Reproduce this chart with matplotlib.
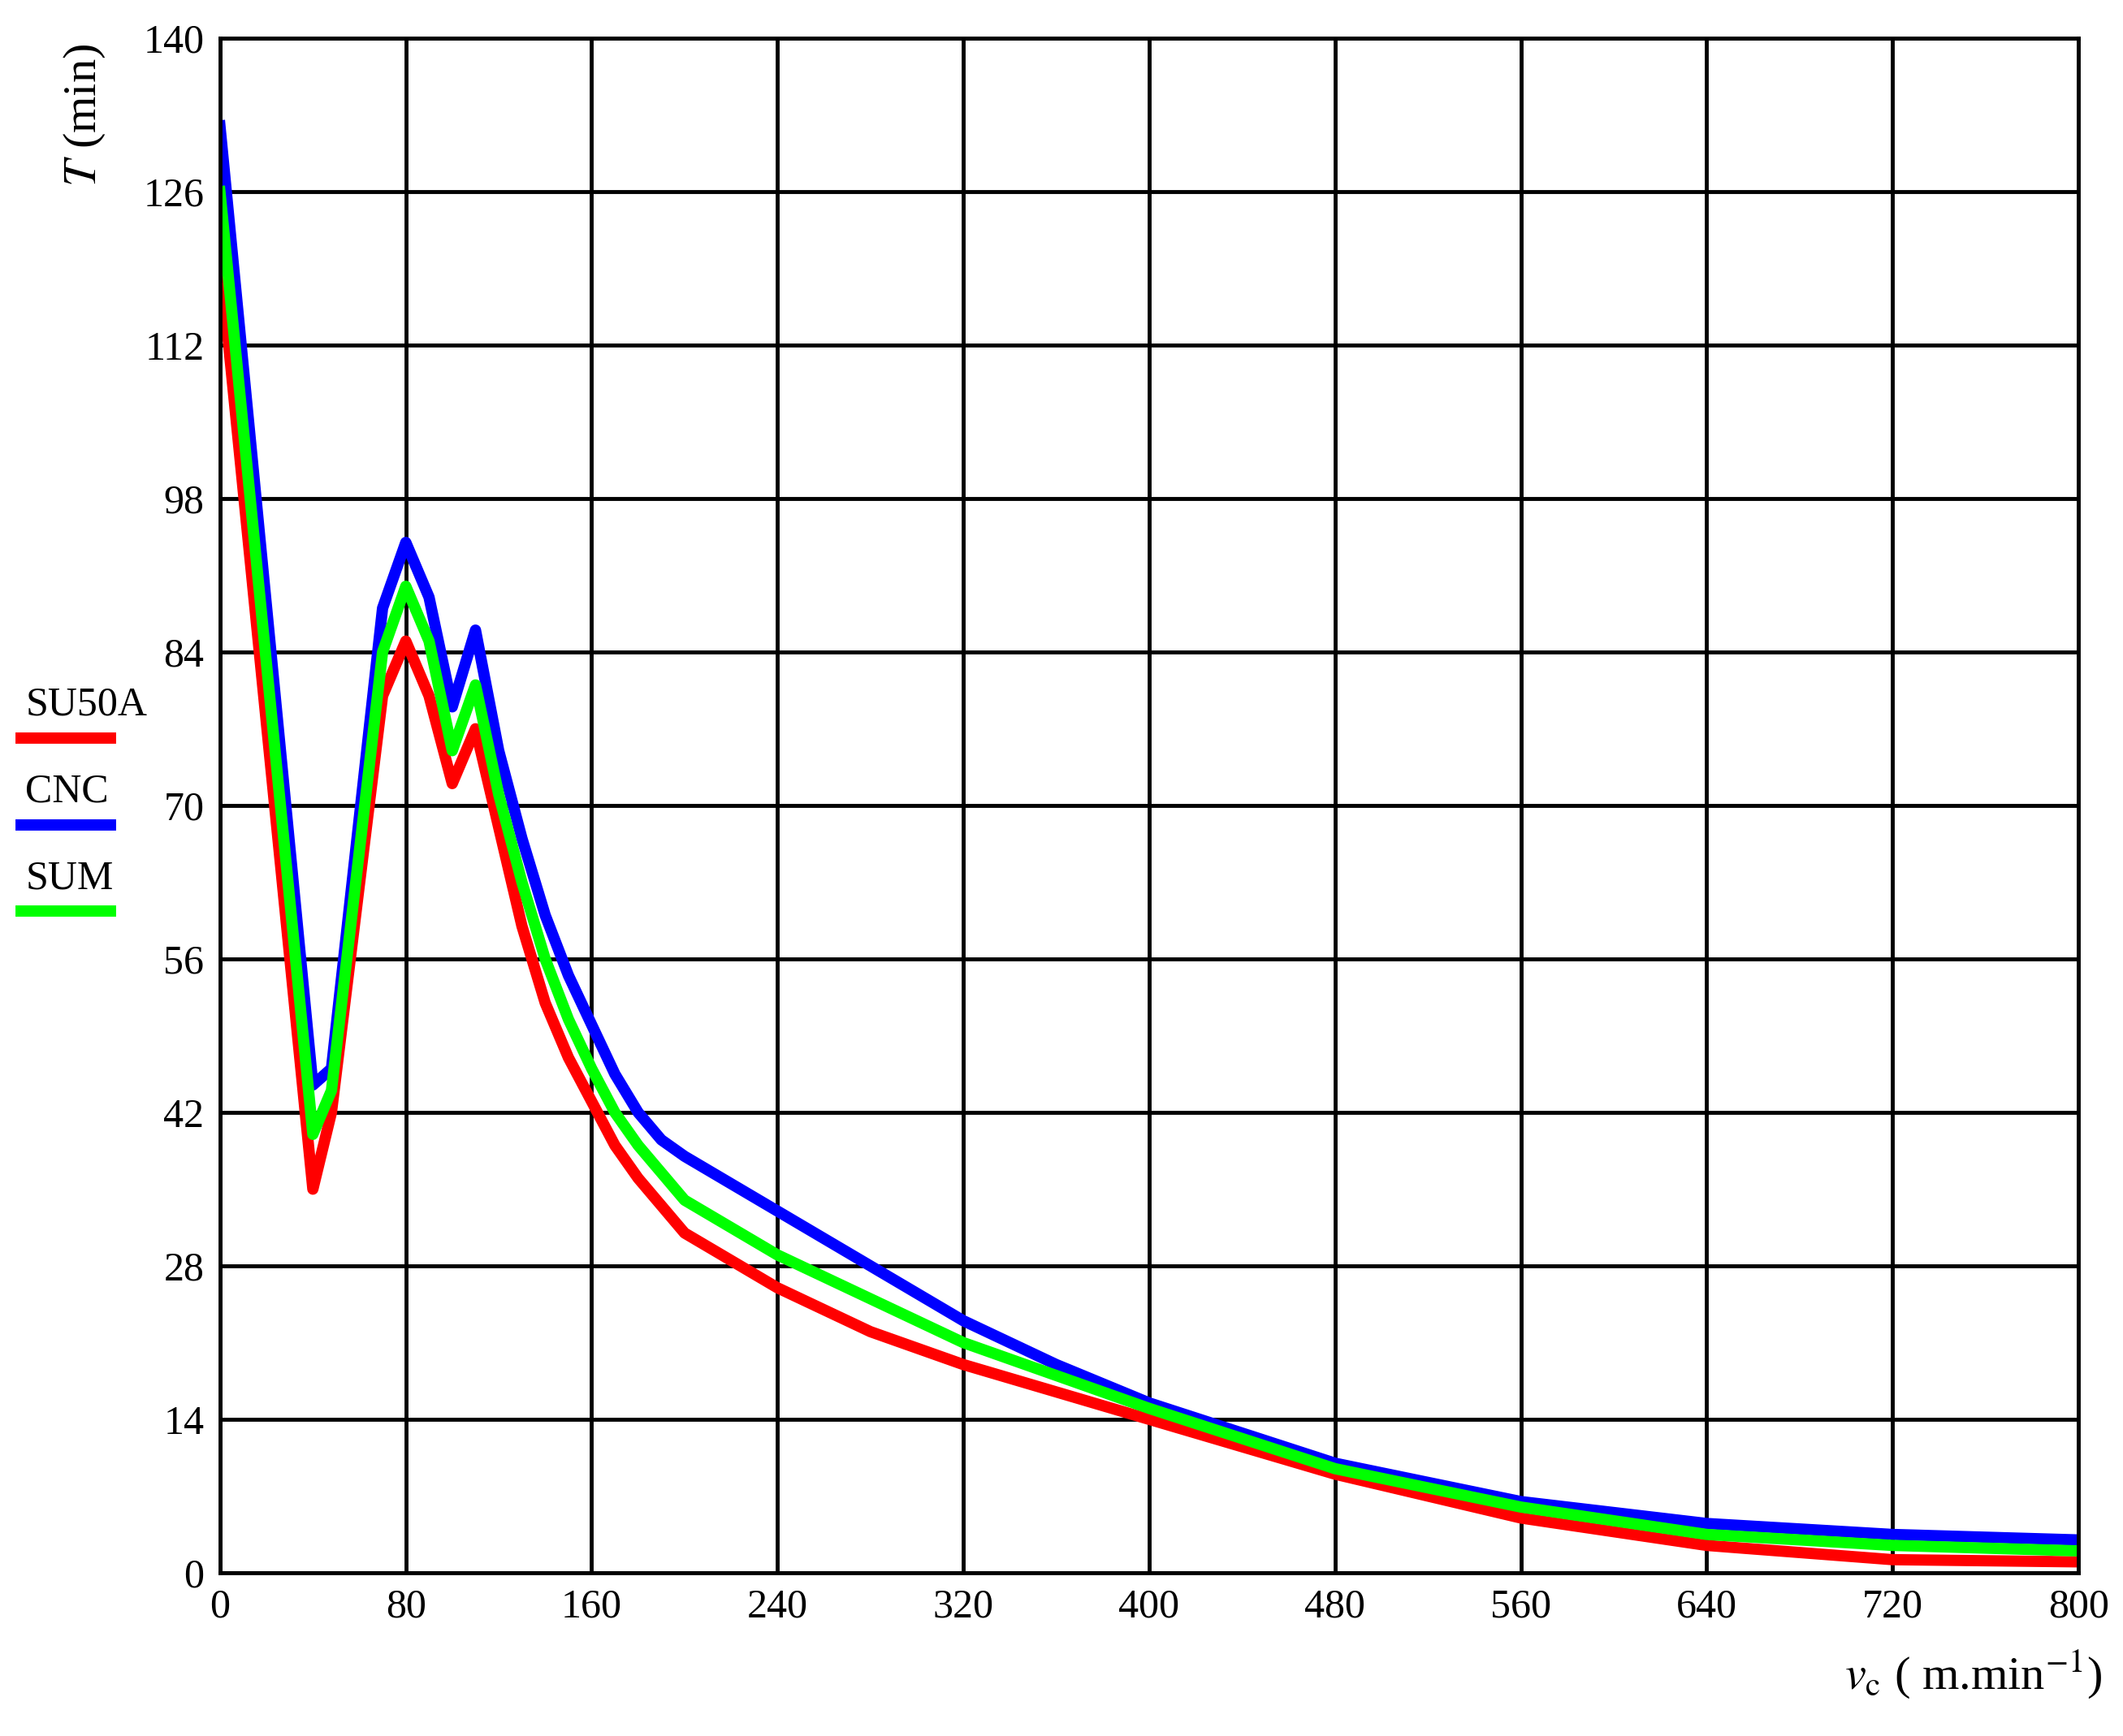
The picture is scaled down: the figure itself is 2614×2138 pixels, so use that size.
import matplotlib
matplotlib.use("Agg")
import matplotlib.pyplot as plt

plt.rcParams['font.family'] = ['Liberation Serif', 'DejaVu Serif']
plt.rcParams['mathtext.fontset'] = 'stix'

vc = [0, 40, 48, 70, 80, 90, 100, 110, 120, 130, 140, 150, 160, 170, 180, 190, 200, 220, 240, 280, 320, 360, 400, 480, 560, 640, 720, 800]
t_su50a = [120, 35, 42, 80, 85, 80, 72, 77, 68, 59, 52, 47, 43, 39, 36, 33.5, 31, 28.5, 26, 22, 19, 16.5, 14, 9, 5, 2.5, 1.2, 1]
t_cnc = [132, 44.5, 46, 88, 94, 89, 79, 86, 75, 67, 60, 54.5, 50, 45.5, 42, 39.5, 38, 35.5, 33, 28, 23, 19, 15.5, 10, 6.5, 4.5, 3.5, 3]
t_sum = [126, 40, 44, 84, 90, 85, 75, 81, 71, 63, 56, 50.5, 46, 42, 39, 36.5, 34, 31.5, 29, 25, 21, 18, 15, 9.5, 6, 3.5, 2.5, 2]

series = [("SU50A", t_su50a, "#ff0000"), ("CNC", t_cnc, "#0000ff"), ("SUM", t_sum, "#00ff00")]

fig = plt.figure(figsize=(26.14, 21.38), dpi=100)
ax = fig.add_axes([0.1036, 0.094, 0.8754, 0.884])

for name, t, col in series:
    ax.plot(vc, t, color=col, lw=10, label=name)

ax.set_xlim(0, 800)
ax.set_ylim(0, 140)
ax.set_xticks(range(0, 801, 80))
ax.set_yticks(range(0, 141, 14))
ax.grid(True, color="black", lw=3.5)
ax.tick_params(labelsize=36, length=0, pad=14)
for s in ax.spines.values():
    s.set_linewidth(3.5)

fig.text(0.04, 0.975, "$T$ (min)", rotation=90, fontsize=42, va="top", ha="center")
fig.text(0.99, 0.02, "$v_{\\mathrm{c}}$ ( m.min$^{-1}$)", fontsize=42, ha="right", va="bottom")

# legend at left outside the axes
for i, (name, t, col) in enumerate(series):
    y = 0.575 - i * 0.05
    fig.text(0.012, y + 0.008, name, fontsize=36, va="bottom")
    fig.add_artist(plt.Line2D([0.01, 0.052], [y, y], color=col, lw=10, transform=fig.transFigure))

fig.savefig("out.png")
